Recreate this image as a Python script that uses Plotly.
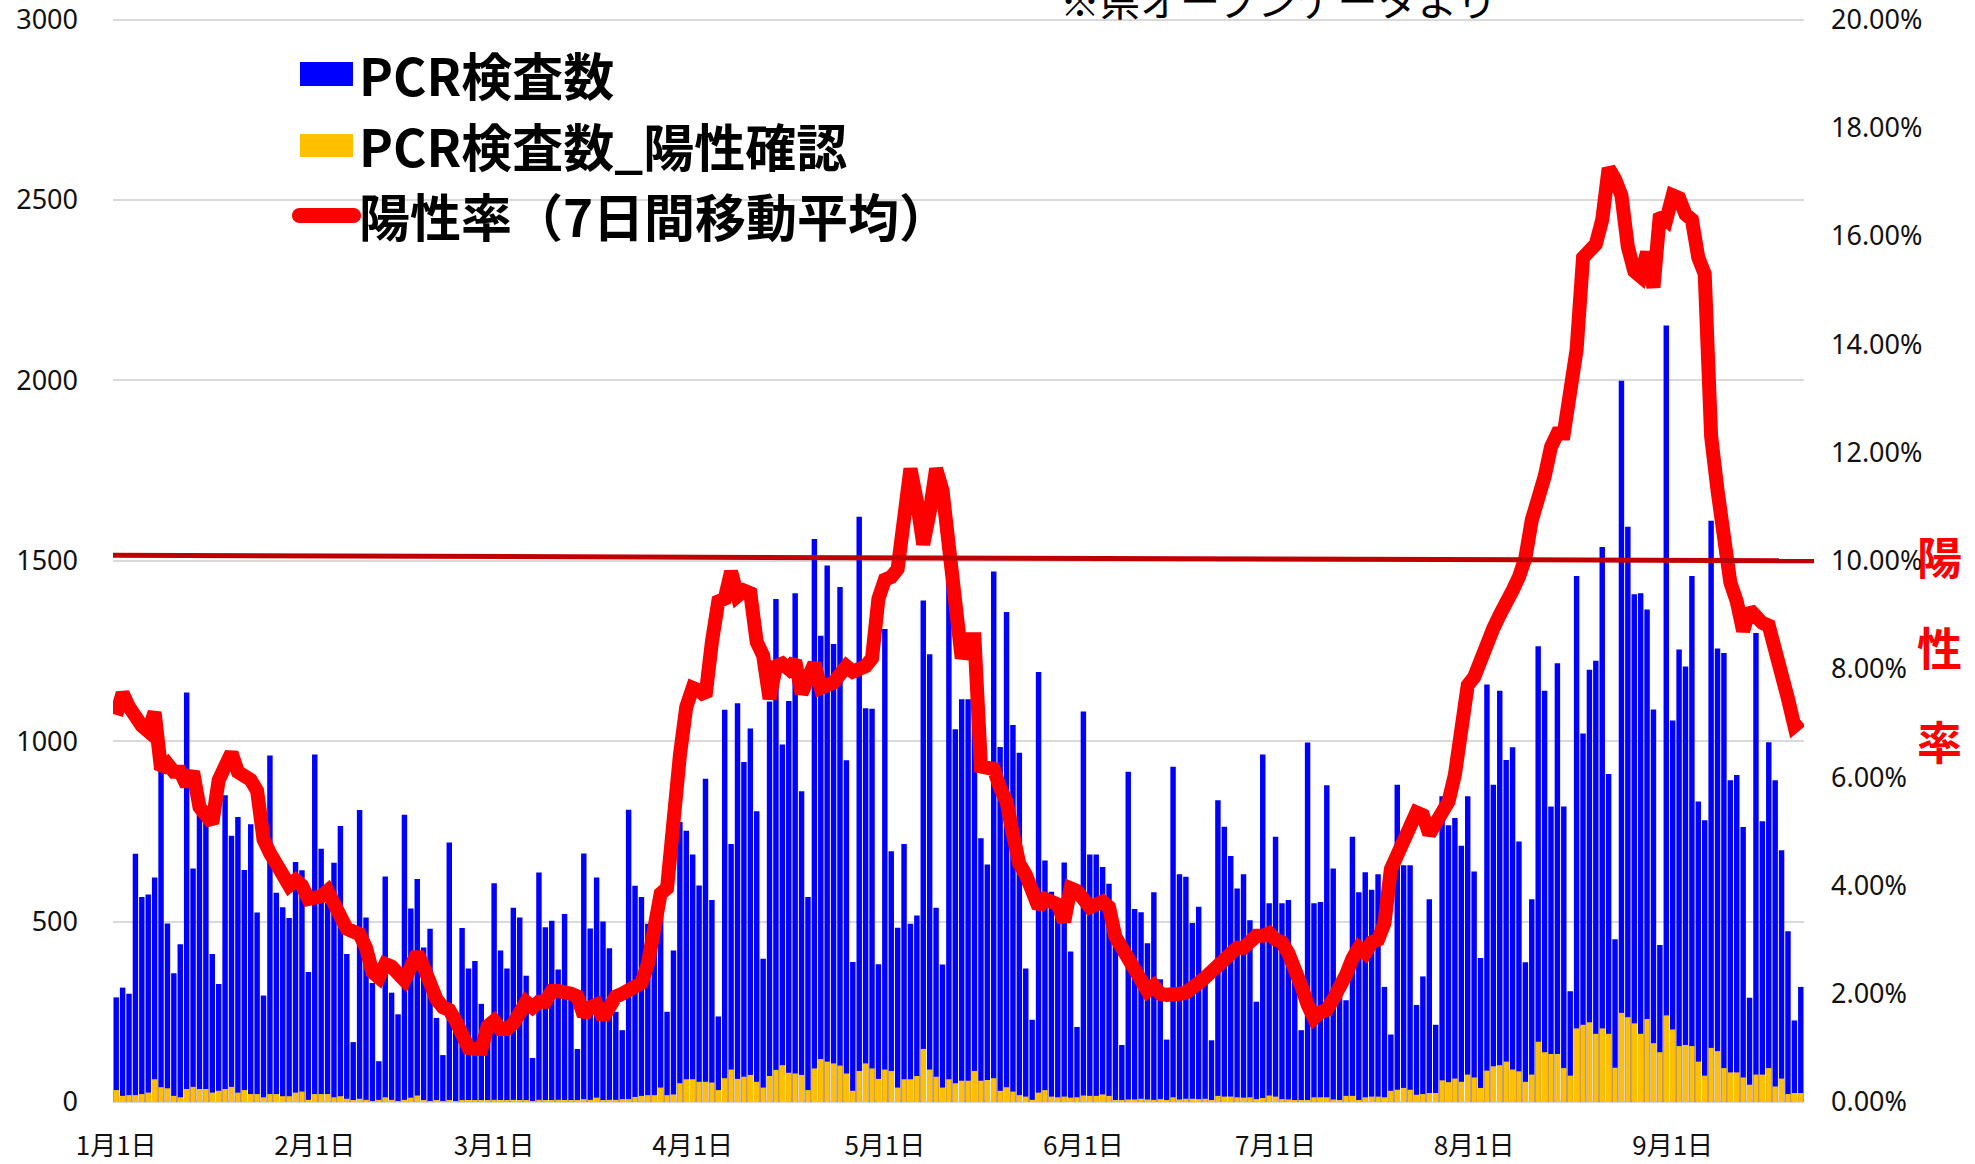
import math
import pandas as pd
import plotly.graph_objects as go

# ---------------- data ----------------
start_date = "2021-01-01"
n_days = 264

pcr_tests = [
    290, 317, 300, 688, 568, 575, 622, 925, 495, 357,
    437, 1135, 647, 805, 785, 410, 327, 850, 738, 790,
    643, 770, 525, 295, 960, 580, 540, 510, 665, 642,
    360, 963, 702, 552, 663, 765, 410, 166, 809, 511,
    330, 113, 625, 303, 243, 796, 536, 618, 428, 480,
    233, 130, 719, 195, 482, 370, 391, 272, 170, 606,
    420, 370, 538, 511, 350, 122, 636, 484, 502, 367,
    521, 290, 147, 689, 481, 622, 500, 426, 250, 199,
    810, 599, 568, 494, 541, 560, 250, 420, 776, 752,
    686, 600, 896, 560, 237, 1087, 715, 1105, 942, 1035,
    806, 397, 1110, 1394, 991, 1111, 1410, 861, 568, 1560,
    1292, 1487, 1269, 1427, 947, 388, 1622, 1091, 1090, 382,
    1311, 695, 483, 715, 494, 517, 1390, 1241, 538, 381,
    1440, 1033, 1116, 1116, 1200, 731, 658, 1470, 984, 1358,
    1045, 968, 370, 228, 1192, 669, 583, 519, 664, 417,
    208, 1082, 686, 686, 651, 605, 442, 158, 915, 535,
    526, 440, 581, 340, 173, 929, 631, 624, 496, 541,
    353, 171, 836, 763, 682, 592, 631, 504, 278, 963,
    551, 735, 551, 560, 353, 199, 996, 551, 554, 878,
    647, 340, 282, 735, 581, 637, 588, 631, 319, 187,
    879, 656, 656, 269, 348, 562, 214, 847, 767, 787,
    710, 847, 639, 399, 1157, 879, 1140, 948, 983, 722,
    387, 562, 1263, 1140, 819, 1216, 819, 307, 1458, 1021,
    1198, 1223, 1538, 909, 451, 1999, 1594, 1407, 1410, 1365,
    1088, 435, 2152, 1057, 1254, 1207, 1458, 833, 781, 1611,
    1257, 1244, 892, 906, 762, 289, 1300, 778, 997, 892,
    698, 473, 226, 319,
]

pcr_positive = [
    33, 17, 19, 19, 22, 26, 63, 41, 38, 17,
    13, 36, 42, 36, 36, 26, 31, 36, 42, 26,
    33, 22, 22, 13, 22, 22, 16, 16, 26, 29,
    6, 22, 22, 22, 13, 16, 9, 3, 9, 6,
    2, 6, 13, 6, 2, 6, 12, 18, 3, 2,
    3, 1, 4, 2, 3, 5, 3, 3, 4, 6,
    4, 5, 6, 3, 5, 2, 6, 4, 3, 6,
    5, 4, 3, 8, 6, 12, 4, 6, 6, 8,
    8, 14, 17, 19, 19, 40, 19, 21, 52, 63,
    63, 56, 56, 54, 33, 66, 90, 64, 70, 75,
    56, 40, 72, 89, 102, 81, 79, 75, 33, 93,
    119, 112, 107, 101, 79, 31, 86, 107, 93, 64,
    90, 86, 40, 63, 63, 72, 147, 90, 70, 40,
    63, 52, 59, 59, 86, 59, 61, 66, 31, 41,
    29, 19, 15, 6, 26, 33, 15, 13, 15, 12,
    13, 18, 17, 17, 21, 17, 4, 4, 7, 7,
    9, 7, 6, 8, 4, 13, 7, 9, 9, 8,
    9, 4, 17, 15, 15, 13, 12, 13, 8, 11,
    18, 15, 8, 7, 4, 3, 4, 13, 13, 13,
    7, 4, 17, 17, 3, 13, 15, 15, 13, 31,
    34, 39, 34, 20, 22, 25, 25, 60, 55, 65,
    56, 76, 68, 39, 87, 99, 102, 112, 90, 85,
    56, 76, 167, 138, 133, 133, 94, 73, 204, 214,
    221, 189, 204, 189, 95, 247, 235, 218, 189, 230,
    163, 138, 240, 201, 155, 158, 155, 112, 73, 150,
    141, 94, 82, 82, 68, 48, 76, 76, 94, 43,
    65, 22, 25, 25,
]

positive_rate_7d = [
    7.15, 7.55, 7.3, 7.1, 6.95, 6.85, 7.2, 6.15, 6.25, 6.1,
    6.1, 5.85, 6.1, 5.45, 5.3, 5.15, 5.95, 6.15, 6.45, 6.1,
    6.05, 5.95, 5.75, 4.85, 4.6, 4.35, 4.15, 4.0, 4.1, 4.0,
    3.75, 3.75, 3.8, 3.9, 3.65, 3.3, 3.2, 3.15, 3.1, 2.85,
    2.4, 2.3, 2.55, 2.5, 2.4, 2.25, 2.5, 2.75, 2.5, 2.15,
    1.9, 1.75, 1.7, 1.5, 1.15, 1.0, 0.98, 0.98, 1.4, 1.5,
    1.35, 1.35, 1.45, 1.7, 1.85, 1.75, 1.85, 1.85, 2.05, 2.05,
    2.05, 2.0, 1.95, 1.6, 1.75, 1.8, 1.55, 1.8, 1.95, 2.0,
    2.05, 2.1, 2.2, 2.55, 3.35, 3.85, 3.95, 5.4, 6.4, 7.3,
    7.65, 7.6, 7.5, 8.5, 9.25, 9.3, 9.8, 9.35, 9.45, 9.4,
    8.5, 8.25, 7.45, 8.05, 8.1, 8.0, 8.15, 7.55, 7.8, 8.1,
    7.65, 7.7, 7.75, 7.9, 8.05, 7.95, 8.0, 8.05, 8.2, 9.3,
    9.65, 9.7, 9.85, 10.8, 11.7, 11.1, 10.3, 10.9, 11.7, 11.3,
    10.2, 9.2, 8.2, 8.55, 8.55, 6.2, 6.15, 6.15, 5.8, 5.55,
    4.95, 4.4, 4.2, 3.8, 3.6, 3.75, 3.72, 3.65, 3.33, 3.95,
    3.9, 3.75, 3.6, 3.65, 3.7, 3.6, 3.05, 2.85, 2.65, 2.45,
    2.25, 2.05, 2.15, 2.0, 1.98, 1.96, 2.0, 2.02, 2.08, 2.2,
    2.3, 2.4, 2.55, 2.6, 2.7, 2.85, 2.85, 3.0, 3.07, 3.07,
    3.12, 3.0, 2.95, 2.75, 2.5, 2.15, 1.8, 1.55, 1.66, 1.7,
    1.9, 2.1, 2.35, 2.65, 2.85, 2.75, 2.95, 3.0, 3.3, 4.3,
    4.55, 4.75, 5.05, 5.35, 5.3, 4.95, 5.15, 5.35, 5.55, 6.05,
    6.75, 7.7, 7.85, 8.2, 8.55, 8.75, 9.0, 9.3, 9.45, 9.7,
    10.05, 10.75, 11.1, 11.55, 12.1, 12.35, 12.35, 13.4, 13.9, 15.6,
    15.75, 15.85, 16.3, 17.25, 17.05, 16.75, 15.8, 15.35, 15.25, 15.7,
    15.05, 16.4, 16.3, 16.75, 16.7, 16.4, 16.3, 15.6, 15.3, 12.3,
    11.3, 10.5, 9.6, 9.25, 8.7, 9.1, 8.95, 8.85, 8.8, 8.25,
    8.0, 7.45, 6.95, 7.05,
]

tick_dates = ["2021-01-01", "2021-02-01", "2021-03-01", "2021-04-01", "2021-05-01",
              "2021-06-01", "2021-07-01", "2021-08-01", "2021-09-01"]
tick_labels = ["1月1日", "2月1日", "3月1日", "4月1日", "5月1日",
               "6月1日", "7月1日", "8月1日", "9月1日"]

count_ticks = [0, 500, 1000, 1500, 2000, 2500, 3000]
rate_ticks = [0, 2, 4, 6, 8, 10, 12, 14, 16, 18, 20]
rate_tick_labels = ["0.00%", "2.00%", "4.00%", "6.00%", "8.00%", "10.00%",
                    "12.00%", "14.00%", "16.00%", "18.00%", "20.00%"]

threshold_rate = [10.1, 10.0]   # 10% reference line (left end, right end)

legend_labels = ["PCR検査数", "PCR検査数_陽性確認", "陽性率（7日間移動平均）"]
source_note = "※県オープンデータより"
right_title_chars = ["陽", "性", "率"]

assert len(pcr_tests) == n_days and len(pcr_positive) == n_days and len(positive_rate_7d) == n_days

dates = pd.date_range(start_date, periods=n_days, freq="D")

# ---------------- geometry helpers (pixels -> paper) ----------------
W, H = 1975, 1164
L, R, T, B = 113, 171, 17, 62
PW, PH = W - L - R, H - T - B
Y_MAX = 3000 * (PH / (PH - 2.5))      # keep the 3000 gridline 2.5 px inside the plot
Y2_MAX = 20 * (PH / (PH - 2.5))


def px(xp):
    return (xp - L) / PW


def py(yp):
    return (H - B - yp) / PH


BLUE = "#0000FF"
YELLOW = "#FFC000"
RED = "#FF0000"
DARKRED = "#C00000"
NUM_FONT = "Noto Sans"
JP_FONT = "Noto Sans CJK JP"

fig = go.Figure()
fig.add_trace(go.Bar(x=dates, y=pcr_tests, name=legend_labels[0],
                     marker=dict(color=BLUE, line=dict(width=0)), opacity=1))
fig.add_trace(go.Bar(x=dates, y=pcr_positive, name=legend_labels[1],
                     marker=dict(color=YELLOW, line=dict(width=0)), opacity=1))
fig.add_trace(go.Scatter(x=dates, y=positive_rate_7d, name=legend_labels[2], yaxis="y2",
                         mode="lines", line=dict(color=RED, width=14)))

fig.update_layout(
    width=W, height=H,
    margin=dict(l=L, r=R, t=T, b=B, autoexpand=False),
    plot_bgcolor="white", paper_bgcolor="white",
    barmode="overlay", bargap=0.15, showlegend=False,
    xaxis=dict(type="date", range=["2020-12-31 12:00", "2021-09-21 12:00"],
               tickvals=tick_dates, ticktext=tick_labels, ticks="",
               showgrid=False, zeroline=False, showline=False, automargin=False,
               tickfont=dict(family=JP_FONT, size=26, color="#111111"),
               ticklabelstandoff=26, ticklabeloverflow="allow"),
    yaxis=dict(range=[0, Y_MAX], tickvals=count_ticks,
               ticktext=[str(v) for v in count_ticks], ticks="",
               showgrid=True, gridcolor="#D9D9D9", gridwidth=2,
               zeroline=True, zerolinecolor="#D9D9D9", zerolinewidth=2,
               showline=False, automargin=False,
               tickfont=dict(family=NUM_FONT, size=27, color="#111111"),
               ticklabelstandoff=34, ticklabeloverflow="allow"),
    yaxis2=dict(overlaying="y", side="right", range=[0, Y2_MAX],
                tickvals=rate_ticks, ticktext=rate_tick_labels, ticks="",
                showgrid=False, zeroline=False, showline=False, automargin=False,
                tickfont=dict(family=NUM_FONT, size=27, color="#111111"),
                ticklabelstandoff=26, ticklabeloverflow="allow"),
)

# 10% reference line
fig.add_shape(type="line", xref="paper", yref="y2", x0=0, x1=px(1814),
              y0=threshold_rate[0], y1=threshold_rate[1],
              line=dict(color=DARKRED, width=5), layer="above")

# custom legend swatches
fig.add_shape(type="rect", xref="paper", yref="paper",
              x0=px(300), x1=px(353), y0=py(86), y1=py(62),
              fillcolor=BLUE, line=dict(width=0), layer="above")
fig.add_shape(type="rect", xref="paper", yref="paper",
              x0=px(300), x1=px(353), y0=py(157), y1=py(134),
              fillcolor=YELLOW, line=dict(width=0), layer="above")

# rounded red line swatch (pill shape in pixel units)
r_cap, half_len = 7.5, 27
pts = []
for k in range(13):
    a = -math.pi / 2 + math.pi * k / 12
    pts.append((half_len + r_cap * math.cos(a), r_cap * math.sin(a)))
for k in range(13):
    a = math.pi / 2 + math.pi * k / 12
    pts.append((-half_len + r_cap * math.cos(a), r_cap * math.sin(a)))
pill = "M " + " L ".join(f"{x:.2f},{y:.2f}" for x, y in pts) + " Z"
fig.add_shape(type="path", xref="paper", yref="paper",
              xsizemode="pixel", ysizemode="pixel",
              xanchor=px(326.5), yanchor=py(215.5), path=pill,
              fillcolor=RED, line=dict(width=0), layer="above")

for label, yc in zip(legend_labels, [74, 145, 215]):
    fig.add_annotation(text="<b>" + label + "</b>", xref="paper", yref="paper",
                       x=px(357), y=py(yc), xanchor="left", yanchor="middle",
                       showarrow=False,
                       font=dict(family=JP_FONT, size=51, color="#000000"))

# right axis title (vertical)
for ch, yc in zip(right_title_chars, [555, 647, 740]):
    fig.add_annotation(text="<b>" + ch + "</b>", xref="paper", yref="paper",
                       x=px(1939), y=py(yc), xanchor="center", yanchor="middle",
                       showarrow=False,
                       font=dict(family=JP_FONT, size=45, color=RED))

# source note (partly cut off at the top, as in the original)
fig.add_annotation(text=source_note, xref="paper", yref="paper",
                   x=px(1278), y=py(-1), xanchor="center", yanchor="middle",
                   showarrow=False,
                   font=dict(family=JP_FONT, size=40, color="#000000"))

fig.write_html("out.html", config={"displayModeBar": False},
               post_script="document.body.style.margin='0px';")
